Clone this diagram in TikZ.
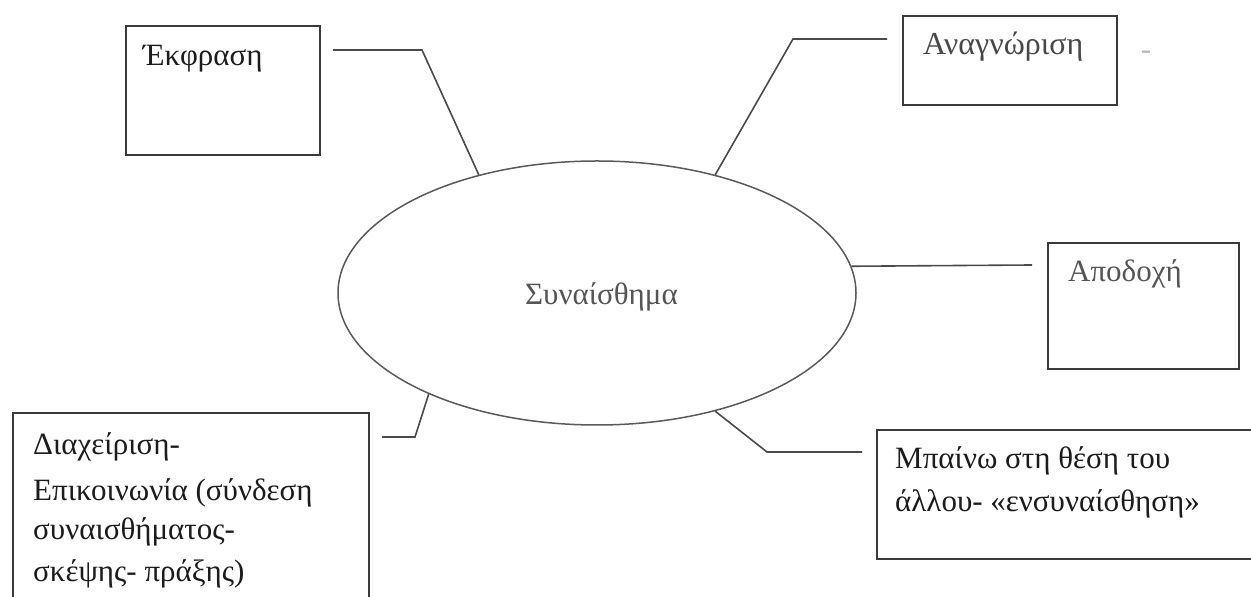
\documentclass[tikz,border=0pt]{standalone}
\usepackage{fontspec}
\setmainfont{Liberation Serif}
\usetikzlibrary{shapes.geometric}
\definecolor{boxc}{HTML}{3A3A3A}
\definecolor{linec}{HTML}{4A4A4A}
\definecolor{ellc}{HTML}{5A5A5A}
\definecolor{txtc}{HTML}{1C1C1C}
\definecolor{greyt}{HTML}{555555}
\begin{document}
\begin{tikzpicture}[x=1pt,y=1pt,
  boxnode/.style={draw=boxc, line width=2pt, rectangle, inner sep=0pt, anchor=north west},
  txt/.style={anchor=base west, inner sep=0pt, font=\fontsize{31}{42}\selectfont, text=txtc},
  link/.style={draw=linec, line width=1.6pt}]
\useasboundingbox (0,0) rectangle (1251,597);
\fill[white] (0,0) rectangle (1251,597);
\clip (0,0) rectangle (1251,597);

% central ellipse
\node[ellipse, draw=ellc, line width=1.5pt, minimum width=518pt, minimum height=264pt, inner sep=0pt] (emo) at (597,304) {};
\node[txt, text=greyt] (emot) at (525,292) {Συναίσθημα};

% boxes
\node[boxnode, minimum width=194pt, minimum height=129pt] (ekf) at (125,572) {};
\node[txt] (ekft) at (143,531) {Έκφραση};

\node[boxnode, minimum width=214pt, minimum height=89pt] (ana) at (902,582) {};
\node[txt, text=greyt!85!black, font=\fontsize{32}{42}\selectfont] (anat) at (923,542) {Αναγνώριση};
\node[inner sep=0pt, anchor=base, text=gray!55, font=\fontsize{31}{42}\selectfont] (dash) at (1146,537) {-};

\node[boxnode, minimum width=191pt, minimum height=126pt] (apo) at (1047,355) {};
\node[txt, text=greyt] (apot) at (1068,315) {Αποδοχή};

\node[boxnode, minimum width=356pt, minimum height=200pt] (dia) at (12,185) {};
\node[txt] (diat1) at (33,142) {Διαχείριση-};
\node[txt] (diat2) at (33,96) {Επικοινωνία (σύνδεση};
\node[txt] (diat3) at (33,57) {συναισθήματος-};
\node[txt] (diat4) at (33,15) {σκέψης- πράξης)};

\node[boxnode, minimum width=400pt, minimum height=129pt] (mpa) at (876,168) {};
\node[txt] (mpat1) at (895,128) {Μπαίνω στη θέση του};
\node[txt] (mpat2) at (895,85) {άλλου- «ενσυναίσθηση»};

% connector corner points
\coordinate (k1a) at (333,547);
\coordinate (k1b) at (422,547);
\coordinate (k2a) at (887,558);
\coordinate (k2b) at (793,558);
\coordinate (k3a) at (1032,332);
\coordinate (k4a) at (382,160);
\coordinate (k4b) at (415,160);
\coordinate (k5a) at (862,145);
\coordinate (k5b) at (767,145);

\draw[link] (k1a) -- (k1b) -- (emo.135.7);
\draw[link] (k2a) -- (k2b) -- (emo.45);
\draw[link] (emo.6.2) -- (k3a);
\draw[link] (k4a) -- (k4b) -- (emo.211.4);
\draw[link] (emo.-45) -- (k5b) -- (k5a);
\end{tikzpicture}
\end{document}
